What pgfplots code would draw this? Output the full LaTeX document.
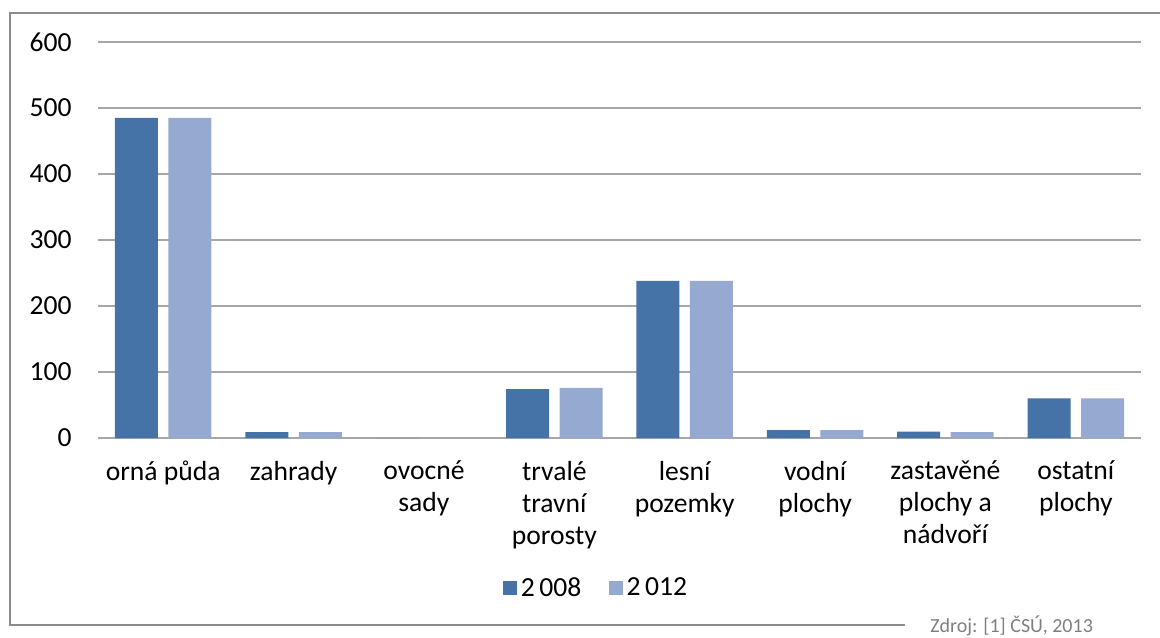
\documentclass[border=0pt]{standalone}
\usepackage{fontspec}
\setmainfont{Carlito}
\usepackage{pgfplots}
\pgfplotsset{compat=1.18}
\definecolor{dark}{HTML}{4572A7}
\definecolor{light}{HTML}{95A9D1}
\definecolor{gridc}{HTML}{A6A6A6}
\definecolor{framec}{HTML}{8C8C8C}
\definecolor{srcc}{HTML}{7F7F7F}
\begin{document}
\begin{tikzpicture}
\path[use as bounding box] (0,0) rectangle (580pt,318.5pt);
\draw[framec, line width=1.1pt] (452.5pt,6pt) -- (5pt,6pt) -- (5pt,312pt) -- (590pt,312pt);
\node[anchor=base west, inner sep=0pt, text=srcc, font=\fontsize{10}{12}\selectfont] at (465pt,2.3pt) {Zdroj: [1] ČSÚ, 2013};
\begin{axis}[
  at={(49pt,99.5pt)}, anchor=south west,
  scale only axis, width=521.5pt, height=198pt,
  ymin=0, ymax=600, ytick={0,100,...,600},
  xmin=-0.5, xmax=7.5, xtick={0,...,7},
  xticklabels={orná půda, zahrady, ovocné\\sady, trvalé\\travní\\porosty, lesní\\pozemky, vodní\\plochy, zastavěné\\plochy a\\nádvoří, ostatní\\plochy},
  xticklabel style={align=center, anchor=north, inner sep=0pt, yshift=-7pt, font=\fontsize{13.8}{16}\selectfont},
  yticklabel style={anchor=east, inner sep=0pt, xshift=-13pt, font=\fontsize{13.8}{16}\selectfont},
  /pgf/number format/assume math mode=true,
  tick style={draw=none},
  axis line style={draw=none},
  ymajorgrids, major grid style={gridc, line width=0.6pt},
  ybar, bar width=0.33,
  legend style={draw=none, at={(0.4784,-0.379)}, anchor=center, legend columns=2,
    font=\fontsize{13.8}{16}\selectfont,
    /tikz/every even column/.append style={column sep=12pt},
    nodes={inner sep=1.8pt}},
  legend image code/.code={\fill[#1] (0pt,-3.5pt) rectangle (7pt,3.5pt);},
]
\addplot[draw=none, fill=dark, bar shift=-0.205] coordinates {(0,485) (1,9) (2,0) (3,74) (4,238) (5,12) (6,9.5) (7,60)};
\addplot[draw=none, fill=light, bar shift=0.205] coordinates {(0,485) (1,9) (2,0) (3,76) (4,238) (5,12) (6,9) (7,60)};
\legend{2\,008, 2\,012}
\end{axis}
\end{tikzpicture}
\end{document}
